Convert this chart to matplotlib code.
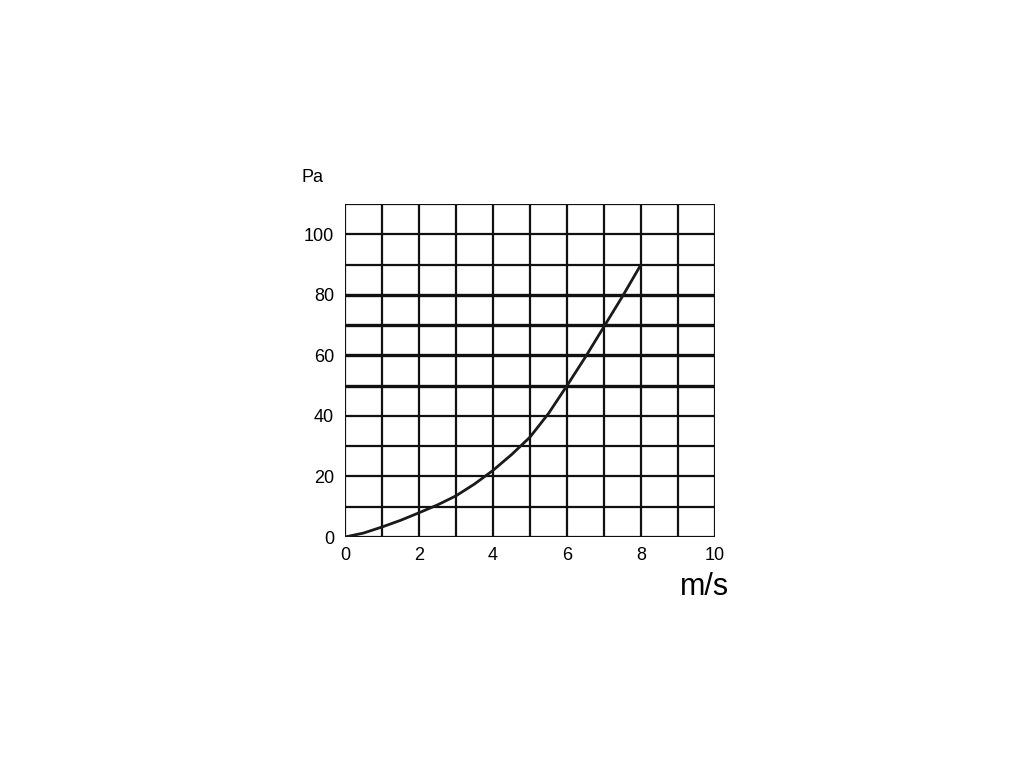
import numpy as np
import matplotlib
matplotlib.use('Agg')
from matplotlib import pyplot as plt

plt.rcParams['font.family'] = ['Liberation Sans', 'DejaVu Sans']

# values
speed = [0, 0.5, 1, 1.5, 2, 2.5, 3, 3.5, 4, 4.5, 5, 5.5, 6, 6.5, 7, 7.5, 8]
pressure = [0, 1.3, 3.3, 5.5, 8, 10.6, 13.6, 17.5, 22, 27.2, 33, 40.8, 50, 59.5, 69.5, 79.5, 90]

x_ticks = [0, 2, 4, 6, 8, 10]
y_ticks = [0, 20, 40, 60, 80, 100]
heavy_lines = [50, 60, 70, 80]

fig = plt.figure(figsize=(10.24, 7.68), dpi=100)
ax = fig.add_axes([345 / 1024, 1 - 537 / 768, 370 / 1024, 333 / 768])
ax.set_xlim(0, 10)
ax.set_ylim(0, 110)

for v in range(0, 11):
    ax.axvline(v, color='#111111', lw=1.6, zorder=1)
for v in range(0, 111, 10):
    w = 2.4 if v in heavy_lines else 1.6
    ax.axhline(v, color='#111111', lw=w, zorder=1)

ax.plot(speed, pressure, color='#1a1a1a', lw=2.0, zorder=3,
        solid_capstyle='butt', solid_joinstyle='round')

for s in ax.spines.values():
    s.set_visible(False)
ax.set_xticks(x_ticks)
ax.set_yticks(y_ticks)
ax.tick_params(axis='y', length=0, labelsize=13, pad=8)
ax.tick_params(axis='x', length=0, labelsize=13, pad=7)

ax.text(-0.89, 118.8, 'Pa', fontsize=13, ha='center', va='center')
ax.text(9.73, -16.5, 'm/s', fontsize=22, ha='center', va='center')

plt.savefig('out.png', dpi=100)
